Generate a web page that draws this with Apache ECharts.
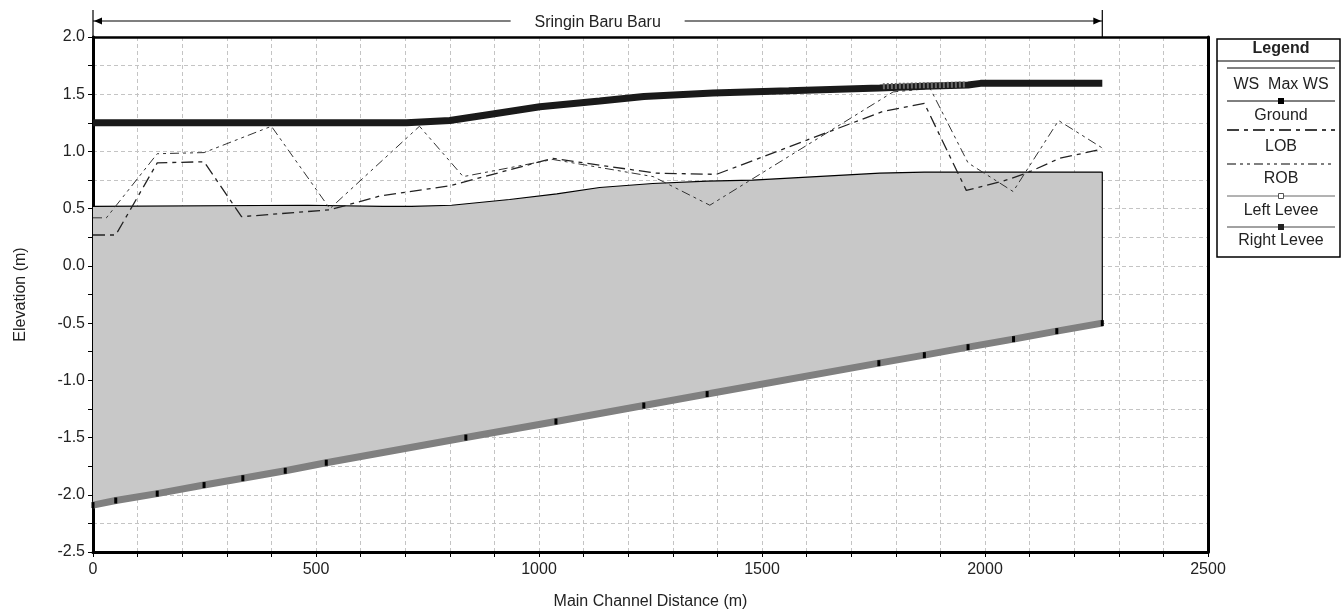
<!DOCTYPE html>
<html>
<head>
<meta charset="utf-8">
<title>Sringin Baru Baru</title>
<script src="https://cdn.jsdelivr.net/npm/echarts@6/dist/echarts.min.js"></script>
<style>
  html, body { margin: 0; padding: 0; background: #fff; }
  #chart { width: 1344px; height: 615px; }
</style>
</head>
<body>
<div id="chart"></div>
<script>
// profile: station (m) / elevation (m)
const reachName = 'Sringin Baru Baru'
const reachStart = 0
const reachEnd = 2263

const groundSta = [0, 51, 144, 249, 336, 431, 523, 836, 1038, 1235, 1377, 1762, 1864, 1962, 2064, 2161, 2263]
const groundElev = [-2.09, -2.05, -1.99, -1.915, -1.855, -1.79, -1.72, -1.50, -1.36, -1.22, -1.12, -0.85, -0.78, -0.71, -0.64, -0.57, -0.50]

const bankSta = [0, 482, 650, 714, 804, 934, 1040, 1136, 1255, 1377, 1479, 1764, 1864, 2263]
const bankElev = [0.52, 0.53, 0.52, 0.52, 0.53, 0.58, 0.63, 0.685, 0.72, 0.74, 0.75, 0.81, 0.82, 0.82]

const wsSta = [0, 703, 800, 900, 1002, 1136, 1235, 1390, 1560, 1764, 1864, 1962, 1990, 2263]
const wsElev = [1.25, 1.25, 1.27, 1.33, 1.39, 1.44, 1.48, 1.51, 1.53, 1.555, 1.57, 1.58, 1.595, 1.595]

const maxWsSta = [1771, 1864, 1955]
const maxWsElev = [1.57, 1.578, 1.585]

const lobSta = [0, 51, 144, 249, 333, 531, 643, 800, 1031, 1136, 1263, 1398, 1771, 1864, 1958, 2040, 2093, 2167, 2263]
const lobElev = [0.27, 0.27, 0.90, 0.91, 0.43, 0.49, 0.61, 0.70, 0.94, 0.88, 0.81, 0.80, 1.35, 1.42, 0.66, 0.74, 0.81, 0.94, 1.02]

const robSta = [0, 30, 144, 249, 400, 531, 732, 830, 1031, 1256, 1383, 1794, 1877, 1962, 2063, 2165, 2263]
const robElev = [0.42, 0.42, 0.98, 0.99, 1.22, 0.50, 1.22, 0.78, 0.93, 0.78, 0.53, 1.52, 1.55, 0.90, 0.65, 1.27, 1.03]

const xTicks = [0, 500, 1000, 1500, 2000, 2500]
const yTicks = [-2.5, -2.0, -1.5, -1.0, -0.5, 0.0, 0.5, 1.0, 1.5, 2.0]

const pairs = (xs, ys) => xs.map((x, i) => [x, ys[i]])
const font = 'Liberation Sans, Arial, sans-serif'
const gridDash = { color: '#c4c4c4', width: 1, type: [4, 3] }
const frameLine = { show: true, onZero: false, lineStyle: { color: '#000', width: 3 } }

const chart = echarts.init(document.getElementById('chart'))

const option = {
  animation: false,
  backgroundColor: '#fff',
  textStyle: { fontFamily: font },
  grid: {
    left: 93,
    right: 136,
    top: 37,
    bottom: 62,
  },
  xAxis: [{
    type: 'value',
    min: 0,
    max: 2500,
    interval: 100,
    name: 'Main Channel Distance (m)',
    nameLocation: 'middle',
    nameGap: 42,
    nameTextStyle: { fontSize: 16, color: '#222', fontFamily: font },
    axisLine: frameLine,
    axisTick: { show: true, inside: false, length: 5, lineStyle: { color: '#000', width: 1 } },
    axisLabel: {
      margin: 10,
      fontSize: 16,
      color: '#222',
      fontFamily: font,
      hideOverlap: false,
      formatter: (v) => xTicks.includes(v) ? String(v) : '',
    },
    splitLine: { show: true, lineStyle: gridDash },
  }, {
    // top frame edge only
    type: 'value',
    position: 'top',
    min: 0,
    max: 2500,
    axisLine: { show: true, onZero: false, lineStyle: { color: '#000', width: 2.5 } },
    axisTick: { show: false },
    axisLabel: { show: false },
    splitLine: { show: false },
  }],
  yAxis: [{
    type: 'value',
    min: -2.5,
    max: 2.0,
    interval: 0.25,
    name: 'Elevation (m)',
    nameLocation: 'middle',
    nameGap: 64,
    nameRotate: 90,
    nameTextStyle: { fontSize: 16, color: '#222', fontFamily: font },
    axisLine: frameLine,
    axisTick: { show: true, inside: false, length: 5, lineStyle: { color: '#000', width: 1 } },
    axisLabel: {
      margin: 8,
      fontSize: 16,
      color: '#222',
      fontFamily: font,
      hideOverlap: false,
      formatter: (v) => yTicks.some((t) => Math.abs(t - v) < 1e-6) ? v.toFixed(1) : '',
    },
    splitLine: { show: true, lineStyle: gridDash },
  }, {
    // right frame edge only
    type: 'value',
    position: 'right',
    min: -2.5,
    max: 2.0,
    axisLine: frameLine,
    axisTick: { show: false },
    axisLabel: { show: false },
    splitLine: { show: false },
  }],
  series: [
    {
      // grey body between invert and bank line
      type: 'custom',
      silent: true,
      z: 1,
      data: [[0, 0]],
      encode: { x: 0, y: 1 },
      renderItem: (params, api) => {
        const pts = []
        bankSta.forEach((s, i) => pts.push(api.coord([s, bankElev[i]])))
        for (let i = groundSta.length - 1; i >= 0; i--) {
          pts.push(api.coord([groundSta[i], groundElev[i]]))
        }
        return { type: 'polygon', shape: { points: pts }, style: { fill: '#c8c8c8' } }
      },
    },
    {
      name: 'Ground',
      type: 'line',
      z: 3,
      data: pairs(groundSta, groundElev),
      lineStyle: { color: '#808080', width: 7, cap: 'butt' },
      symbol: 'rect',
      symbolSize: [3, 6],
      itemStyle: { color: '#000' },
    },
    {
      name: 'Bank',
      type: 'line',
      z: 3,
      data: pairs(bankSta, bankElev).concat([[groundSta[groundSta.length - 1], groundElev[groundElev.length - 1]]]),
      lineStyle: { color: '#000', width: 1.2 },
      symbol: 'none',
    },
    {
      name: 'LOB',
      type: 'line',
      z: 4,
      data: pairs(lobSta, lobElev),
      lineStyle: { color: '#222', width: 1.3, type: [12, 5, 4, 5] },
      symbol: 'none',
    },
    {
      name: 'ROB',
      type: 'line',
      z: 4,
      data: pairs(robSta, robElev),
      lineStyle: { color: '#333', width: 1, type: [9, 4, 3, 4, 3, 4] },
      symbol: 'none',
    },
    {
      name: 'WS',
      type: 'line',
      z: 5,
      data: pairs(wsSta, wsElev),
      lineStyle: { color: '#1a1a1a', width: 7, cap: 'butt' },
      symbol: 'none',
    },
    {
      name: 'Max WS',
      type: 'line',
      z: 6,
      data: pairs(maxWsSta, maxWsElev),
      lineStyle: { color: '#6a6a6a', width: 6, type: [2, 2], cap: 'butt' },
      symbol: 'none',
    },
  ],
}

chart.setOption(option)

// reach banner above the plot and the boxed legend on the right
const x0 = chart.convertToPixel({ xAxisIndex: 0 }, reachStart)
const x1 = chart.convertToPixel({ xAxisIndex: 0 }, reachEnd)
const xm = (x0 + x1) / 2
const by = 21
const gap = 87

const legendLeft = 1217
const legendTop = 39
const legendW = 123
const legendH = 218
const lx0 = 1227
const lx1 = 1335
const lxc = (lx0 + lx1) / 2

const hline = (xa, xb, y, style) => ({ type: 'line', shape: { x1: xa, y1: y, x2: xb, y2: y }, style: Object.assign({ stroke: '#000', lineWidth: 1 }, style) })
const label = (text, y, bold) => ({
  type: 'text',
  x: lxc,
  y: y,
  style: { text: text, fill: '#222', font: (bold ? 'bold ' : '') + '16px ' + font, align: 'center', verticalAlign: 'middle' },
})

chart.setOption({
  graphic: [
    { type: 'line', shape: { x1: x0, y1: 10, x2: x0, y2: 37 }, style: { stroke: '#000', lineWidth: 1.2 } },
    { type: 'line', shape: { x1: x1, y1: 10, x2: x1, y2: 37 }, style: { stroke: '#000', lineWidth: 1.2 } },
    hline(x0, xm - gap, by, { lineWidth: 1.2 }),
    hline(xm + gap, x1, by, { lineWidth: 1.2 }),
    { type: 'polygon', shape: { points: [[x0 + 1, by], [x0 + 9, by - 3.5], [x0 + 9, by + 3.5]] }, style: { fill: '#000' } },
    { type: 'polygon', shape: { points: [[x1 - 1, by], [x1 - 9, by - 3.5], [x1 - 9, by + 3.5]] }, style: { fill: '#000' } },
    {
      type: 'text',
      x: xm,
      y: by + 2,
      style: { text: reachName, fill: '#222', font: '16px ' + font, align: 'center', verticalAlign: 'middle' },
    },

    { type: 'rect', shape: { x: legendLeft, y: legendTop, width: legendW, height: legendH }, style: { fill: '#fff', stroke: '#000', lineWidth: 1.5 } },
    hline(legendLeft, legendLeft + legendW, 61, { lineWidth: 1.2 }),
    label('Legend', 49, true),

    hline(lx0, lx1, 68),
    label('WS  Max WS', 85),

    hline(lx0, lx1, 101),
    { type: 'rect', shape: { x: lxc - 3, y: 98, width: 6, height: 6 }, style: { fill: '#000' } },
    label('Ground', 116),

    hline(lx0, lx1, 130, { lineDash: [12, 5, 4, 5], lineWidth: 1.3 }),
    label('LOB', 147),

    hline(lx0, lx1, 164, { lineDash: [9, 4, 3, 4, 3, 4], lineWidth: 1.1 }),
    label('ROB', 179),

    hline(lx0, lx1, 196, { stroke: '#666' }),
    { type: 'rect', shape: { x: lxc - 2.5, y: 193.5, width: 5, height: 5 }, style: { fill: '#fff', stroke: '#555', lineWidth: 1 } },
    label('Left Levee', 211),

    hline(lx0, lx1, 227, { stroke: '#444' }),
    { type: 'rect', shape: { x: lxc - 3, y: 224, width: 6, height: 6 }, style: { fill: '#222' } },
    label('Right Levee', 241),
  ],
})
</script>
</body>
</html>
